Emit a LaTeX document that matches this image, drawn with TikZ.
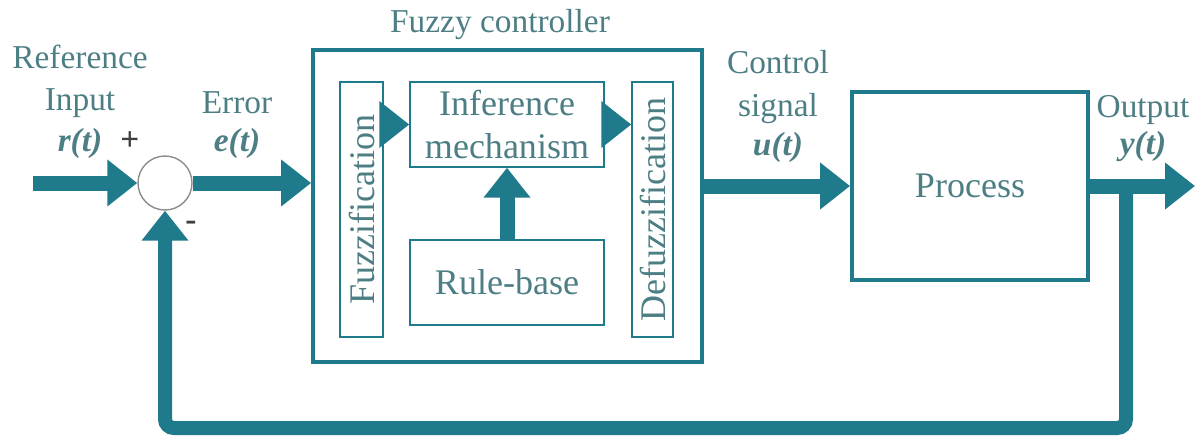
\documentclass[tikz,border=0pt]{standalone}
\usepackage{fontspec}
\setmainfont{Liberation Serif}
\usetikzlibrary{arrows.meta}

\definecolor{linecol}{RGB}{31,122,140}
\definecolor{textcol}{RGB}{76,126,132}

\begin{document}
\begin{tikzpicture}[x=0.02cm,y=-0.02cm,
		lbl/.style={text=textcol,font=\fontsize{19}{24}\selectfont,align=center,inner sep=0pt},
		sig/.style={draw=linecol,line width=0.3cm,-{Triangle[length=0.6cm,width=0.9cm]}},
		outerbox/.style={draw=linecol,line width=2.2pt,inner sep=0pt},
		innerbox/.style={draw=linecol,line width=0.8pt,inner sep=0pt,text=textcol,font=\fontsize{20.5}{25}\selectfont,align=center}]
	\useasboundingbox (0,0) rectangle (1203,437);
	
	\coordinate (in) at (33,183);
	\coordinate (out) at (1195,186);
	\coordinate (br) at (1126,186);
	\coordinate (low) at (1126,428);
	
	\node[circle,draw=black!45,line width=0.8pt,fill=white,minimum size=1.08cm,inner sep=0pt] (sum) at (165,183) {};
	
	\node[outerbox,minimum width=7.78cm,minimum height=6.24cm] (fc) at (507.5,206) {};
	\node[lbl] (fclbl) at (500,25) {Fuzzy controller};
	
	\node[innerbox,minimum width=0.86cm,minimum height=5.1cm,
		label={[rotate=90,text=textcol,font=\fontsize{20.5}{25}\selectfont]center:Fuzzification}] (fuzz) at (361.5,209.5) {};
	\node[innerbox,minimum width=0.82cm,minimum height=5.1cm,
		label={[rotate=90,text=textcol,font=\fontsize{20.5}{25}\selectfont]center:Defuzzification}] (defuzz) at (652.5,209.5) {};
	\node[innerbox,minimum width=3.88cm,minimum height=1.7cm] (inf) at (507,124.5) {Inference\\mechanism};
	\node[innerbox,minimum width=3.88cm,minimum height=1.7cm] (rule) at (507,282.5) {Rule-base};
	
	\node[outerbox,minimum width=4.72cm,minimum height=3.76cm,text=textcol,font=\fontsize{20.5}{25}\selectfont] (proc) at (970,186) {Process};
	
	\node[lbl] (reflbl) at (80,81) {Reference\\Input};
	\node[lbl] (rlbl) at (80,143) {\textbf{\textit{r(t)}}};
	\node[lbl,text=black!75] (plus) at (130,141) {\textbf{+}};
	\node[lbl,text=black!75] (minus) at (191,226) {\textbf{-}};
	\node[lbl] (errlbl) at (237,103) {Error};
	\node[lbl] (elbl) at (237,143) {\textbf{\textit{e(t)}}};
	\node[lbl] (ctllbl) at (778,87) {Control\\signal};
	\node[lbl] (ulbl) at (778,147) {\textbf{\textit{u(t)}}};
	\node[lbl] (outlbl) at (1143,110) {Output};
	\node[lbl] (ylbl) at (1143,147) {\textbf{\textit{y(t)}}};
	
	\draw[sig] (in) -- (sum.west);
	\draw[sig] (sum.east) -- (fc.west |- sum.east);
	\draw[sig] (fuzz.east |- inf.west) -- (inf.west);
	\draw[sig] (inf.east) -- (defuzz.west |- inf.east);
	\draw[sig] (rule.north) -- (inf.south);
	\draw[sig] (fc.east |- proc.west) -- (proc.west);
	\draw[sig] (proc.east) -- (out);
	\draw[sig,line width=0.28cm,rounded corners=5pt] (br) -- (low) -| (sum.south);
\end{tikzpicture}
\end{document}
